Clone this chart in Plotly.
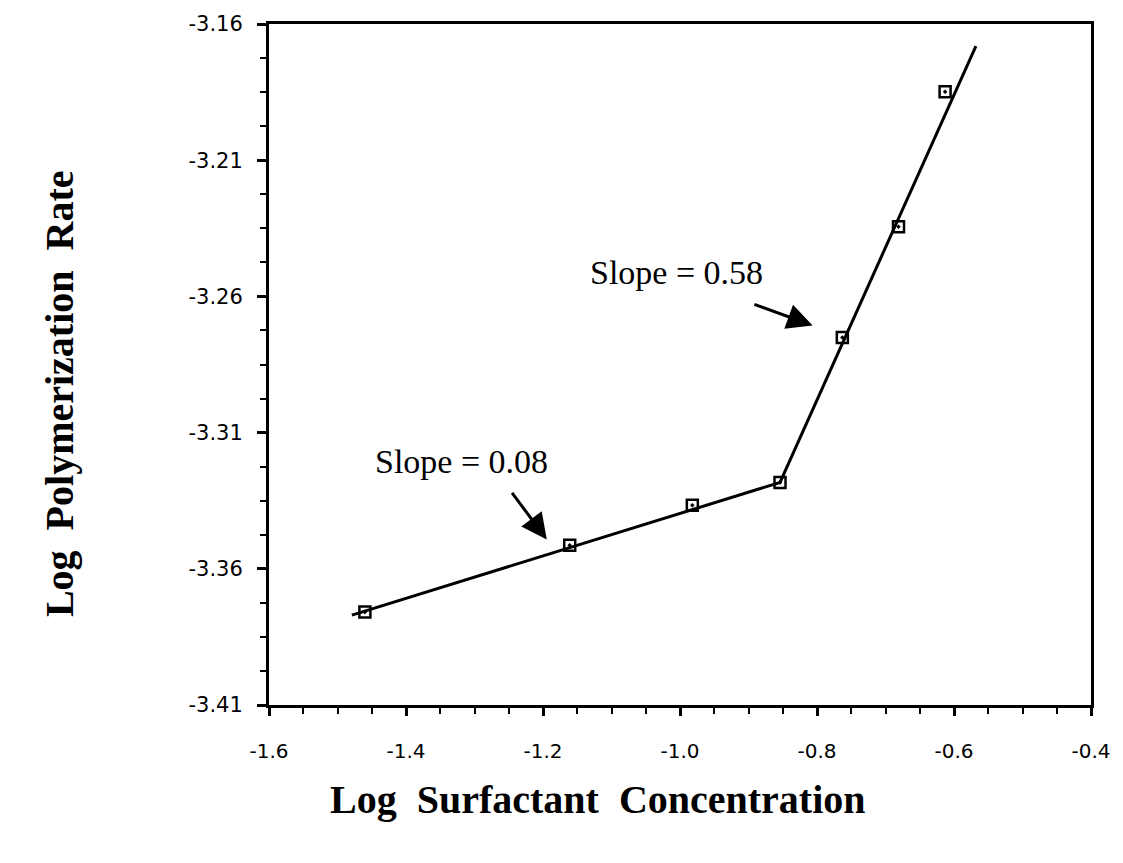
import plotly.graph_objects as go

# Data
log_surfactant = [-1.460, -1.161, -0.982, -0.854, -0.763, -0.681, -0.613]
log_rate = [-3.3759, -3.3514, -3.3367, -3.3283, -3.2751, -3.2344, -3.1849]

# Fitted two-segment line (endpoints + break point)
fit_x = [-1.479, -0.854, -0.568]
fit_y = [-3.3770, -3.3283, -3.1681]

x_ticks = [-1.6, -1.4, -1.2, -1.0, -0.8, -0.6, -0.4]
x_tick_labels = ["-1.6", "-1.4", "-1.2", "-1.0", "-0.8", "-0.6", "-0.4"]
y_ticks = [-3.41, -3.36, -3.31, -3.26, -3.21, -3.16]
y_tick_labels = ["-3.41", "-3.36", "-3.31", "-3.26", "-3.21", "-3.16"]

slope_labels = ["Slope = 0.08", "Slope = 0.58"]
slope_text_x = [-1.3195, -1.0055]
slope_text_y = [-3.3206, -3.2513]
slope_arrow_tail_x = [-1.2468, -0.8936]
slope_arrow_tail_y = [-3.3316, -3.2627]
slope_arrow_tip_x = [-1.1945, -0.8064]
slope_arrow_tip_y = [-3.3492, -3.2707]

fig = go.Figure()
fig.add_trace(go.Scatter(x=fit_x, y=fit_y, mode="lines",
                         line=dict(color="black", width=3), showlegend=False,
                         hoverinfo="skip"))
fig.add_trace(go.Scatter(x=log_surfactant, y=log_rate, mode="markers",
                         marker=dict(symbol="square-open-dot", size=11, color="black",
                                     line=dict(width=2.5, color="black")),
                         showlegend=False))

for i, t in enumerate(slope_labels):
    fig.add_annotation(x=slope_text_x[i], y=slope_text_y[i], text=t, showarrow=False,
                       font=dict(family="Liberation Serif", size=34, color="black"))
    fig.add_annotation(x=slope_arrow_tip_x[i], y=slope_arrow_tip_y[i],
                       ax=slope_arrow_tail_x[i], ay=slope_arrow_tail_y[i],
                       axref="x", ayref="y", text="", showarrow=True,
                       arrowhead=2, arrowsize=1.7, arrowwidth=3, arrowcolor="black")

# Axis titles
fig.add_annotation(xref="paper", yref="paper", x=-0.2845, y=0.4575,
                   text="<b>Log  Polymerization  Rate</b>", textangle=-90, showarrow=False,
                   font=dict(family="Liberation Serif", size=40, color="black"))
fig.add_annotation(xref="paper", yref="paper", x=0.4005, y=-0.175,
                   text="<b>Log  Surfactant  Concentration</b>", showarrow=False,
                   font=dict(family="Liberation Serif", size=40, color="black"))

fig.update_xaxes(range=[-1.6, -0.4], tickvals=x_ticks, ticktext=x_tick_labels,
                 ticks="outside", ticklen=8, tickwidth=2.5, tickcolor="black",
                 minor=dict(ticks="outside", ticklen=6, tickwidth=2, tickcolor="black",
                            tick0=-1.6, dtick=0.05, showgrid=False),
                 showline=True, linecolor="black", linewidth=3, mirror=True,
                 showgrid=False, zeroline=False, ticklabelstandoff=18,
                 tickfont=dict(family="DejaVu Sans", size=20, color="black"))
fig.update_yaxes(range=[-3.41, -3.16], tickvals=y_ticks, ticktext=y_tick_labels,
                 ticks="outside", ticklen=9, tickwidth=2.5, tickcolor="black",
                 minor=dict(ticks="outside", ticklen=6, tickwidth=2, tickcolor="black",
                            tick0=-3.41, dtick=0.0125, showgrid=False),
                 showline=True, linecolor="black", linewidth=3, mirror=True,
                 showgrid=False, zeroline=False, ticklabelstandoff=10,
                 tickfont=dict(family="DejaVu Sans", size=21, color="black"))

fig.update_layout(width=1123, height=863, plot_bgcolor="white", paper_bgcolor="white",
                  margin=dict(l=269, r=28, t=23, b=158), showlegend=False)

fig.write_html("out.html")
